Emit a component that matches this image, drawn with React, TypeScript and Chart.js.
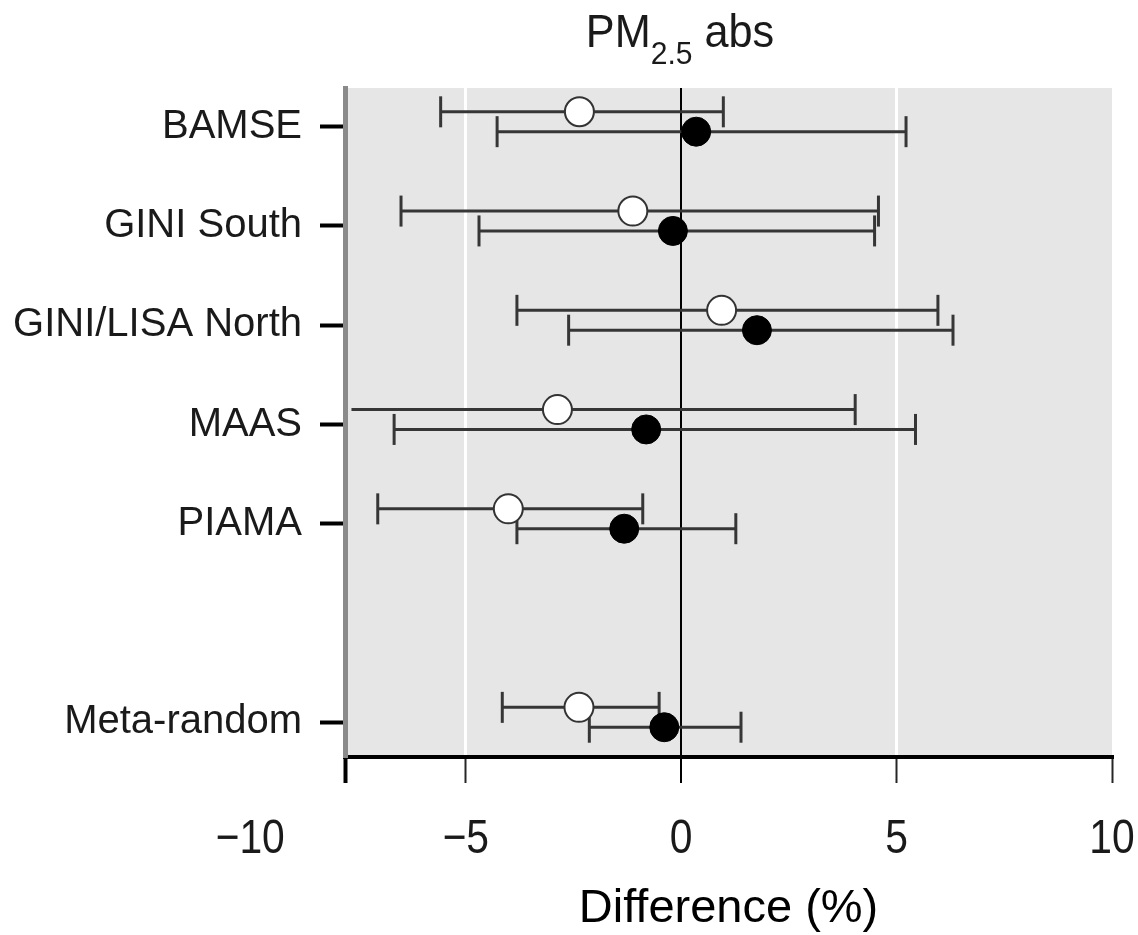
import React, { useEffect, useRef } from 'react';
import { Chart, registerables } from 'chart.js';

Chart.register(...registerables);

// ---- Data ----
const CATEGORIES = ['BAMSE', 'GINI South', 'GINI/LISA North', 'MAAS', 'PIAMA', 'Meta-random'];
const ROWS = [1, 2, 3, 4, 5, 7];

// open circles
const OPEN_EST = [-2.36, -1.12, 0.94, -2.87, -4.01, -2.37];
const OPEN_LO = [-5.58, -6.5, -3.81, -7.65, -7.04, -4.15];
const OPEN_HI = [0.98, 4.58, 5.96, 4.04, -0.89, -0.51];
const OPEN_LO_CAPPED = [true, true, true, false, true, true];

// filled circles
const FILLED_EST = [0.35, -0.19, 1.76, -0.81, -1.32, -0.39];
const FILLED_LO = [-4.27, -4.69, -2.61, -6.66, -3.81, -2.13];
const FILLED_HI = [5.22, 4.49, 6.31, 5.44, 1.27, 1.39];

const X_TICKS = [-7.8, -5, 0, 5, 10];
const X_LABELS = [-10, -5, 0, 5, 10];
const X_MIN = -7.8;
const X_MAX = 10;

// ---- Styling constants ----
const OPEN_DY = -0.15;
const FILLED_DY = 0.05;
const SANS = '"Liberation Sans", Arial, Helvetica, sans-serif';
const BAR_COLOR = '#363636';
const BAR_W = 3;
const X_TICK_LEN = 26;
const X_TICK_FONT = 48;
const X_LABEL_BASELINE = 96; // below the axis line
const NARROW_SCALE = 0.85;
const MARKER_R = 14.5;

const fmt = (v: number) => (v < 0 ? '\u2212' + Math.abs(v) : String(v));

export default function App() {
  const ref = useRef<HTMLCanvasElement>(null);

  useEffect(() => {
    const canvas = ref.current;
    if (!canvas) return;

    const bgPlugin = {
      id: 'plotBg',
      beforeDraw(chart: any) {
        const { ctx, chartArea: a } = chart;
        ctx.save();
        ctx.fillStyle = '#e6e6e6';
        ctx.fillRect(a.left, a.top, a.right - a.left, a.bottom - a.top);
        ctx.restore();
      },
    };

    // condensed x tick labels (narrow face emulated by horizontal scaling)
    const xLabelPlugin = {
      id: 'xNarrowLabels',
      afterDraw(chart: any) {
        const s = chart.scales.x;
        const ctx = chart.ctx;
        const y = s.top + X_LABEL_BASELINE;
        X_LABELS.forEach((v) => {
          const px = s.getPixelForValue(v);
          ctx.save();
          ctx.font = `${X_TICK_FONT}px ${SANS}`;
          ctx.fillStyle = '#1a1a1a';
          ctx.textAlign = 'center';
          ctx.textBaseline = 'alphabetic';
          ctx.translate(px, y);
          ctx.scale(NARROW_SCALE, 1);
          ctx.fillText(fmt(v), 0, 0);
          ctx.restore();
        });
      },
    };

    const titlePlugin = {
      id: 'subTitle',
      afterDraw(chart: any) {
        const ctx = chart.ctx;
        const sx = 0.94;
        ctx.save();
        ctx.fillStyle = '#1a1a1a';
        ctx.textBaseline = 'alphabetic';
        ctx.textAlign = 'left';
        const big = `46px ${SANS}`;
        const small = `32px ${SANS}`;
        ctx.font = big;
        const w1 = ctx.measureText('PM').width * sx;
        const w3 = ctx.measureText(' abs').width * sx;
        ctx.font = small;
        const w2 = ctx.measureText('2.5').width * sx;
        let x = 680 - (w1 + w2 + w3) / 2;
        const draw = (t: string, f: string, px: number, py: number) => {
          ctx.save();
          ctx.font = f;
          ctx.translate(px, py);
          ctx.scale(sx, 1);
          ctx.fillText(t, 0, 0);
          ctx.restore();
        };
        draw('PM', big, x, 47);
        x += w1;
        draw('2.5', small, x, 64);
        x += w2;
        draw(' abs', big, x, 47);
        ctx.restore();
      },
    };

    const datasets: any[] = [];
    ROWS.forEach((r, i) => {
      datasets.push({
        data: [
          { x: OPEN_LO[i], y: r + OPEN_DY },
          { x: OPEN_HI[i], y: r + OPEN_DY },
        ],
        showLine: true,
        borderColor: BAR_COLOR,
        borderWidth: BAR_W,
        pointStyle: 'line',
        pointRotation: 90,
        pointRadius: [OPEN_LO_CAPPED[i] ? 15.5 : 0, 15.5],
        pointBorderColor: BAR_COLOR,
        pointBorderWidth: BAR_W,
        pointHoverRadius: 0,
        order: 2,
      });
      datasets.push({
        data: [
          { x: FILLED_LO[i], y: r + FILLED_DY },
          { x: FILLED_HI[i], y: r + FILLED_DY },
        ],
        showLine: true,
        borderColor: BAR_COLOR,
        borderWidth: BAR_W,
        pointStyle: 'line',
        pointRotation: 90,
        pointRadius: 15.5,
        pointBorderColor: BAR_COLOR,
        pointBorderWidth: BAR_W,
        pointHoverRadius: 0,
        order: 2,
      });
    });
    datasets.push({
      data: ROWS.map((r, i) => ({ x: OPEN_EST[i], y: r + OPEN_DY })),
      pointRadius: MARKER_R,
      pointBackgroundColor: '#ffffff',
      pointBorderColor: '#333333',
      pointBorderWidth: 2,
      order: 0,
    });
    datasets.push({
      data: ROWS.map((r, i) => ({ x: FILLED_EST[i], y: r + FILLED_DY })),
      pointRadius: MARKER_R,
      pointBackgroundColor: '#000000',
      pointBorderColor: '#000000',
      pointBorderWidth: 1,
      order: 1,
    });

    const chart = new Chart(canvas, {
      type: 'scatter',
      data: { datasets },
      options: {
        animation: false,
        responsive: false,
        devicePixelRatio: 1,
        events: [],
        layout: { padding: { top: 88, right: 26, left: 0, bottom: 0 } },
        plugins: { legend: { display: false }, tooltip: { enabled: false }, title: { display: false } },
        scales: {
          x: {
            type: 'linear',
            min: X_MIN,
            max: X_MAX,
            afterBuildTicks: (s: any) => {
              s.ticks = X_TICKS.map((v) => ({ value: v }));
            },
            afterFit: (s: any) => {
              s.height = 935 - 757;
            },
            ticks: { display: false },
            grid: {
              drawOnChartArea: true,
              color: (c: any) => {
                const v = c.tick?.value;
                if (v === 0) return '#000000';
                if (v === 5 || v === -5) return '#ffffff';
                return 'rgba(0,0,0,0)';
              },
              lineWidth: (c: any) => (c.tick?.value === 0 ? 2 : 3),
              tickColor: (c: any) => (c.tick?.value === X_MIN || c.tick?.value === 0 ? '#000000' : '#262626'),
              tickWidth: (c: any) => (c.tick?.value === X_MIN ? 4 : 2),
              tickLength: X_TICK_LEN,
            },
            border: { display: true, color: '#000000', width: 4 },
            title: {
              display: true,
              text: 'Difference (%)',
              color: '#000000',
              font: { family: SANS, size: 47, lineHeight: 1.1 },
              padding: { top: 0, bottom: 0 },
            },
          },
          y: {
            type: 'linear',
            reverse: true,
            min: 0.61,
            max: 7.35,
            afterBuildTicks: (s: any) => {
              s.ticks = ROWS.map((v) => ({ value: v }));
            },
            afterFit: (s: any) => {
              s.width = 345;
            },
            ticks: {
              callback: (v: any) => {
                const idx = ROWS.indexOf(Number(v));
                return idx >= 0 ? CATEGORIES[idx] : '';
              },
              font: { family: SANS, size: 40 },
              color: '#1a1a1a',
              padding: 18,
              autoSkip: false,
            },
            grid: {
              drawOnChartArea: false,
              tickColor: '#000000',
              tickWidth: 4,
              tickLength: 25,
            },
            border: { display: true, color: '#8a8a8a', width: 5 },
          },
        },
      },
      plugins: [bgPlugin, xLabelPlugin, titlePlugin],
    } as any);

    return () => {
      chart.destroy();
    };
  }, []);

  return (
    <div style={{ position: 'absolute', left: 0, top: 0, width: 1138, height: 935, background: '#ffffff' }}>
      <canvas ref={ref} width={1138} height={935} style={{ width: 1138, height: 935, display: 'block' }} />
    </div>
  );
}
